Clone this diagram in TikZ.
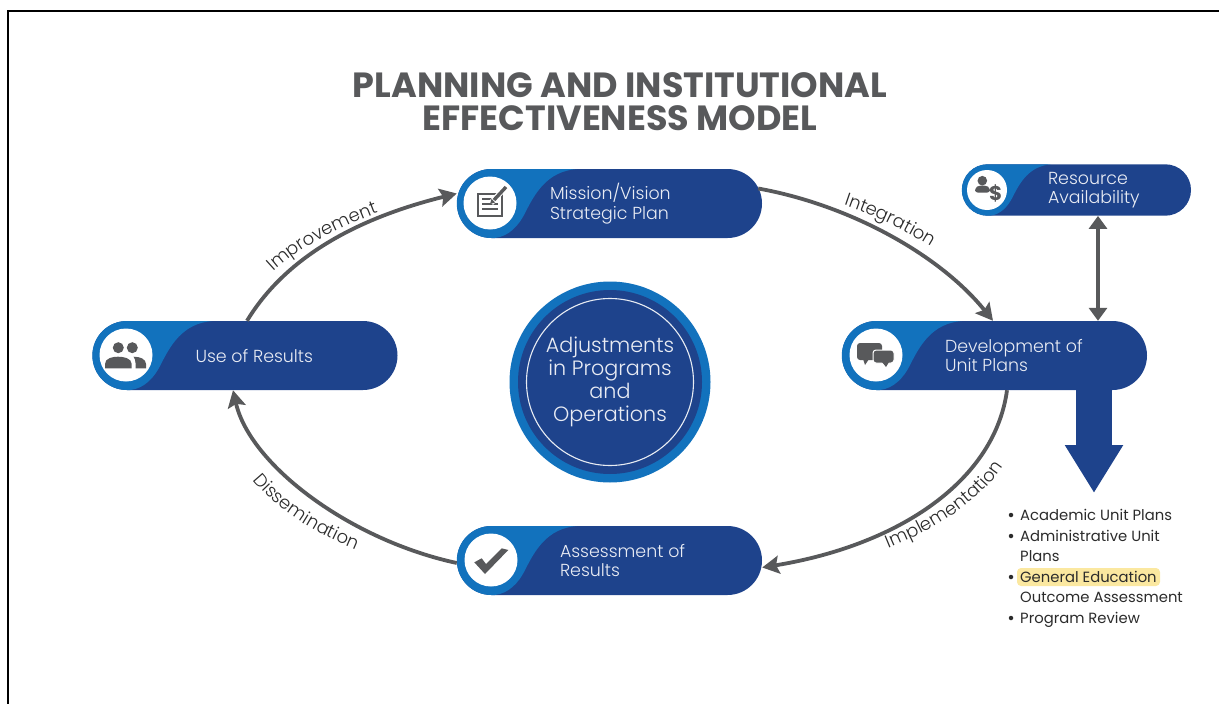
\documentclass[tikz,border=0pt]{standalone}
\usepackage{fontspec}
\setmainfont{Poppins}
\newfontfamily\lightfont{Poppins Light}
\usetikzlibrary{arrows.meta,decorations.text}

\definecolor{planblue}{HTML}{1E438C}
\definecolor{capblue}{HTML}{1272BD}
\definecolor{planink}{HTML}{58595B}
\definecolor{listink}{HTML}{2B2B2B}
\definecolor{marker}{HTML}{FBE8A0}

\begin{document}
\begin{tikzpicture}[x=1pt, y=-1pt,
            pill/.style={fill=planblue, rounded corners=34.5pt, minimum width=305pt, minimum height=69pt, inner sep=0pt},
            small_pill/.style={fill=planblue, rounded corners=25.7pt, minimum width=229pt, minimum height=51.4pt, inner sep=0pt},
            badge/.style={circle, fill=white, minimum size=53pt, inner sep=0pt},
            small_badge/.style={circle, fill=white, minimum size=40pt, inner sep=0pt},
            pilltext/.style={anchor=west, align=left, inner sep=0pt, text=white!90!planblue, font=\lightfont\fontsize{17.4}{19.6}\selectfont},
            flow/.style={draw=planink, line width=3.8pt, -{Stealth[inset=3pt, length=17pt, width=18pt]}},
            both/.style={draw=planink, line width=3.2pt, {Triangle[length=13pt, width=18pt]}-{Triangle[length=13pt, width=18pt]}},
            curvelabel/.style={decorate, decoration={text along path, text align=center, text={|\lightfont\fontsize{18}{18}\selectfont\color{listink}|#1}}},
            listitem/.style={anchor=base west, inner sep=0pt, text=listink, font=\fontsize{14.8}{16}\selectfont},
            bullet/.style={circle, fill=listink, minimum size=4.5pt, inner sep=0pt},
            icon/.style={fill=planink, draw=none}
        ]

        \useasboundingbox (0,0) rectangle (1219,704);
        \draw[line width=2pt] (7.5,704) -- (7.5,10.5) -- (1219,10.5);

        % Title
        \node[align=center, text=planink, font=\bfseries\fontsize{35}{33}\selectfont] (title) at (620,102) {PLANNING AND INSTITUTIONAL\\EFFECTIVENESS MODEL};

        % Pills of the cycle
        \node[pill] (mission) at (609.5,203.5) {};
        \node[pill] (dev) at (994.5,355.5) {};
        \node[pill] (assess) at (609.5,560.5) {};
        \node[pill] (use) at (245,355.5) {};
        \node[small_pill] (resource) at (1076.5,190) {};

        % Light caps at the left of the pills
        \foreach \pillname/\capscale in {mission/1, dev/1, assess/1, use/1, resource/0.745} {
            \begin{scope}[shift={(\pillname.west)}, scale=\capscale]
                \fill[capblue] (120,-34.5) .. controls (90,-32) and (78,-10) .. (68,10)
                    .. controls (62,22) and (52,33) .. (38,34.5) -- (34.5,34.5)
                    arc[start angle=90, end angle=270, radius=34.5] -- cycle;
            \end{scope}
        }

        % White badges
        \node[badge] (missionicon) at (490,203) {};
        \node[badge] (devicon) at (876,355) {};
        \node[badge] (assessicon) at (491,560) {};
        \node[badge] (useicon) at (126,355) {};
        \node[small_badge] (resourceicon) at (987,190) {};

        % Document and pencil
        \begin{scope}[shift={(missionicon)}]
            \draw[planink, line width=2.5pt] (-12,-9) rectangle (12,13);
            \foreach \y in {-4,1,6} {
                \draw[planink, line width=2.5pt] (-8,\y) -- (8,\y);
            }
            \draw[white, line width=5.5pt] (1,0) -- (15,-15);
            \draw[planink, line width=3.4pt] (4,-3) -- (16,-16);
            \fill[planink] (0,1) -- (1.5,-4) -- (5,-0.5) -- cycle;
        \end{scope}

        % Speech bubbles
        \begin{scope}[shift={(devicon)}]
            \fill[planink, rounded corners=3pt] (-19,-12) rectangle (6,5);
            \fill[planink] (-13,4) -- (-7,4) -- (-11,10) -- cycle;
            \draw[icon, draw=white, line width=1pt, rounded corners=3pt] (-3,-5) rectangle (18,8);
            \fill[planink] (6,7) -- (13,7) -- (10,12) -- cycle;
        \end{scope}

        % Tick
        \fill[icon, shift={(assessicon)}] (-16.7,2.3) -- (-9.3,-1.7) -- (-5,4) -- (10.7,-11.7) -- (17.3,-10) -- (-6,14) -- cycle;

        % Two people
        \begin{scope}[shift={(useicon)}]
            \fill[icon] (-7.7,-7.3) circle[radius=5.5];
            \fill[icon] (6.3,-7.3) circle[radius=5.5];
            \fill[icon] (-21,13.3) -- (-21,9) .. controls (-21,3) and (-13,1.7) .. (-8,1.7) .. controls (-3,1.7) and (5.7,3) .. (5.7,9) -- (5.7,13.3) -- cycle;
            \fill[icon] (7.5,1.7) .. controls (14,1.7) and (20,4) .. (20,9) -- (20,13.3) -- (9.5,13.3) -- (9.5,8) .. controls (9.5,5) and (8.5,3) .. (7.5,1.7) -- cycle;
        \end{scope}

        % Person and dollar
        \begin{scope}[shift={(resourceicon)}]
            \fill[icon] (-4.7,-9.3) circle[radius=4.8];
            \fill[icon, rounded corners=3pt] (-12,2.7) -- (-12,-2) -- (-8,-4.5) -- (-1,-4.5) -- (3,-2) -- (3,2.7) -- cycle;
            \node[inner sep=0pt, text=planink, font=\bfseries\fontsize{20}{20}\selectfont] (dollar) at (8.7,3.3) {\$};
        \end{scope}

        % Text of the pills
        \node[pilltext] (missiontext) at ([xshift=93pt]mission.west) {Mission/Vision\\Strategic Plan};
        \node[pilltext] (devtext) at ([xshift=103pt]dev.west) {Development of\\Unit Plans};
        \node[pilltext] (assesstext) at ([xshift=103pt]assess.west) {Assessment of\\Results};
        \node[pilltext] (usetext) at ([xshift=103pt]use.west) {Use of Results};
        \node[pilltext] (resourcetext) at ([xshift=86pt]resource.west) {Resource\\Availability};

        % Centre disc
        \node[circle, fill=capblue, minimum size=201pt, inner sep=0pt] (hubouter) at (610,382) {};
        \node[circle, fill=planblue, minimum size=184pt, inner sep=0pt] (hubinner) at (hubouter) {};
        \node[circle, draw=white!90!planblue, line width=1.1pt, minimum size=167pt, inner sep=0pt, align=center, text=white!90!planblue, font=\lightfont\fontsize{20.7}{23}\selectfont] (hub) at (hubouter) {Adjustments\\in Programs\\and\\Operations};

        % Cycle arrows
        \draw[flow] ([xshift=2pt]use.north) .. controls (290,250) and (370,215) .. ([yshift=10pt]mission.west);
        \draw[flow] ([xshift=-4pt,yshift=15pt]mission.east) .. controls (850,205) and (940,255) .. ([xshift=-1.5pt]dev.north);
        \draw[flow] ([xshift=12.5pt]dev.south) .. controls (995,480) and (900,545) .. ([yshift=-7pt]assess.east);
        \draw[flow] ([yshift=-2.5pt]assess.west) .. controls (350,540) and (250,465) .. ([xshift=-12pt]use.south);

        % Labels along the arrows
        \path[curvelabel=Improvement] (268,277) .. controls (295,250) and (335,228) .. (385,210);
        \path[curvelabel=Integration] (838,203) .. controls (870,213) and (905,230) .. (937,250);
        \path[curvelabel=Implementation] (882,551) .. controls (930,532) and (980,505) .. (1007,460);
        \path[curvelabel=Dissemination] (249,475) .. controls (275,510) and (315,533) .. (362,552);

        % Resource link
        \draw[both] ([xshift=21.5pt]resource.south) -- ([xshift=21.5pt]resource.south |- dev.north);

        % Big arrow to the list
        \coordinate (bigtip) at (1094,493);
        \draw[draw=planblue, fill=planblue, line width=36pt, -{Triangle[length=48pt, width=55pt]}] ([xshift=99.5pt]dev.south) -- (bigtip);

        % List of plans
        \node[rounded corners=4pt, fill=marker, minimum width=143pt, minimum height=18pt, inner sep=0pt] (markerbox) at (1088.5,577) {};
        \foreach \ypos/\itemname/\itemtext in {520/a/Academic Unit Plans, 541/b/Administrative Unit, 561/c/Plans, 582/d/General Education, 602/e/Outcome Assessment, 623/f/Program Review} {
            \node[listitem] (item\itemname) at (1020,\ypos) {\itemtext};
        }
        \foreach \ypos/\itemname in {515/a,536/b,577/c,618/d} {
            \node[bullet] (dot\itemname) at (1011,\ypos) {};
        }

    \end{tikzpicture}
\end{document}
